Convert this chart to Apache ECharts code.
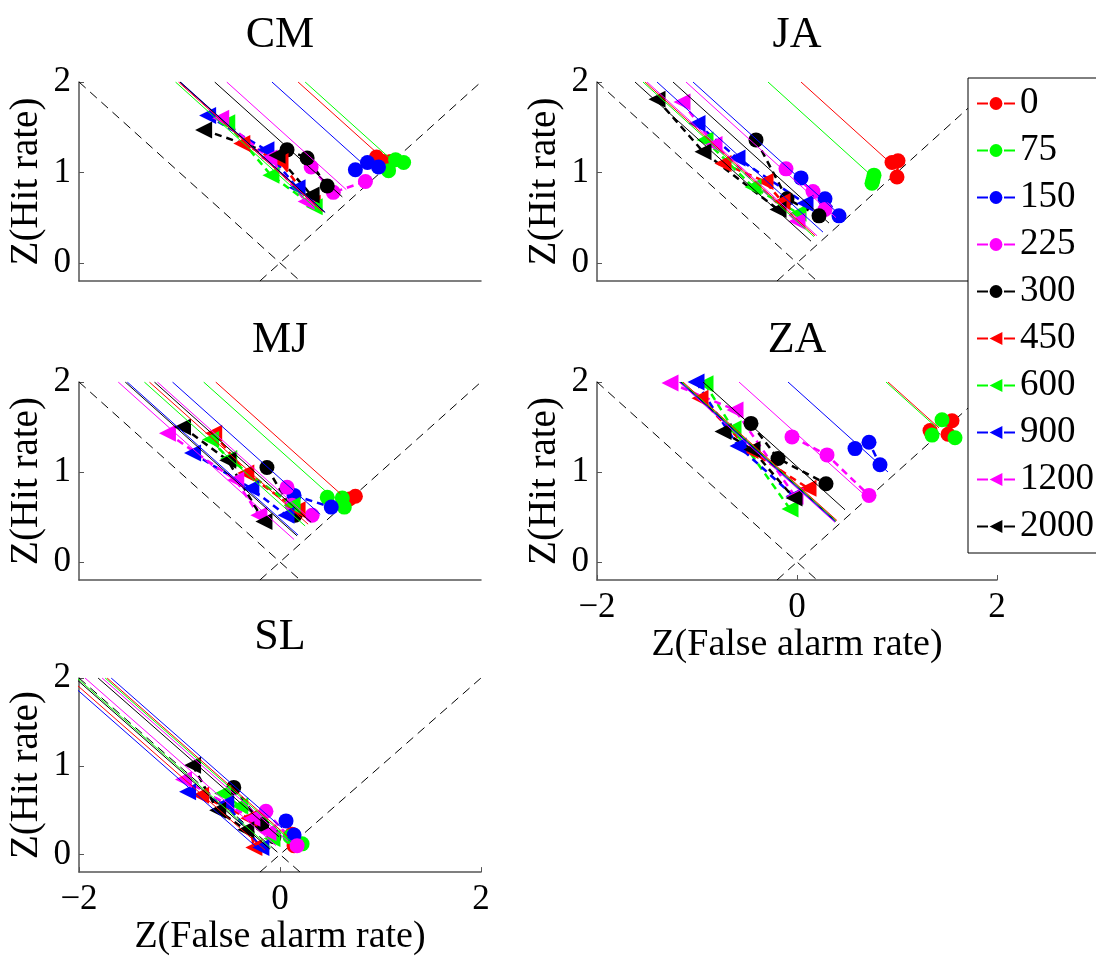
<!DOCTYPE html>
<html><head><meta charset="utf-8">
<script src="https://cdn.jsdelivr.net/npm/echarts@6/dist/echarts.min.js"></script>
<style>html,body{margin:0;padding:0;background:#fff}#chart{width:1096px;height:957px}</style>
</head><body><div id="chart"></div>
<script>
// ---------- DATA ----------
const conditions = ['0','75','150','225','300','450','600','900','1200','2000'];
const condColors = ['#ff0000','#00ff00','#0000ff','#ff00ff','#000000','#ff0000','#00ff00','#0000ff','#ff00ff','#000000'];
const condSymbols = ['circle','circle','circle','circle','circle','triangle','triangle','triangle','triangle','triangle'];
const panelNames = ['CM','JA','MJ','ZA','SL'];
const yTickValues = [0,1,2];
const xTickValues = [-2,0,2];
const chanceDown = [[-2,2],[0.2,-0.2]];
const chanceUp = [[-0.2,-0.2],[2,2]];

// points per condition (index follows conditions)
const cmPoints = [
  [[0.96,1.17],[1.03,1.12],[1.10,1.12]],
  [[1.08,1.02],[1.15,1.14],[1.23,1.11]],
  [[0.75,1.03],[0.87,1.11],[0.98,1.06]],
  [[0.31,1.06],[0.53,0.78],[0.85,0.90]],
  [[0.07,1.25],[0.27,1.16],[0.47,0.85]],
  [[-0.38,1.32],[0.0,1.12],[0.32,0.66]],
  [[-0.53,1.55],[-0.09,0.97],[0.34,0.62]],
  [[-0.72,1.63],[-0.14,1.25],[0.17,0.83]],
  [[-0.59,1.60],[-0.11,1.16],[0.26,0.68]],
  [[-0.76,1.47],[-0.03,1.19],[0.31,0.75]]
];
const jaPoints = [
  [[0.95,1.11],[1.01,1.13],[1.00,0.95]],
  [[0.77,0.97],[0.76,0.92],[0.75,0.88]],
  [[0.04,0.94],[0.28,0.71],[0.42,0.52]],
  [[-0.11,1.04],[0.16,0.79],[0.28,0.59]],
  [[-0.41,1.36],[-0.10,0.71],[0.22,0.52]],
  [[-0.74,1.10],[-0.32,0.90],[-0.15,0.68]],
  [[-0.92,1.36],[-0.44,0.84],[0.01,0.55]],
  [[-1.00,1.54],[-0.60,1.16],[0.08,0.66]],
  [[-1.15,1.78],[-0.83,1.31],[0.0,0.46]],
  [[-1.40,1.81],[-0.94,1.23],[-0.19,0.59]]
];
const mjPoints = [
  [[0.64,0.67],[0.69,0.70],[0.75,0.73]],
  [[0.47,0.72],[0.62,0.71],[0.64,0.61]],
  [[0.14,0.74],[0.51,0.61]],
  [[0.07,0.83],[0.12,0.63],[0.32,0.52]],
  [[-0.13,1.05],[0.15,0.52]],
  [[-0.66,1.43],[-0.34,0.99],[0.17,0.58]],
  [[-0.69,1.36],[-0.51,1.15],[0.12,0.63]],
  [[-0.87,1.21],[-0.29,0.82],[0.06,0.52]],
  [[-1.12,1.43],[-0.44,0.91],[-0.21,0.52]],
  [[-0.97,1.50],[-0.52,1.13],[-0.16,0.45]]
];
const zaPoints = [
  [[1.33,1.46],[1.55,1.57],[1.51,1.42]],
  [[1.35,1.41],[1.45,1.58],[1.58,1.38]],
  [[0.58,1.26],[0.72,1.33],[0.83,1.08]],
  [[-0.05,1.39],[0.30,1.19],[0.72,0.74]],
  [[-0.46,1.54],[-0.19,1.15],[0.29,0.87]],
  [[-0.97,1.82],[-0.47,1.24],[0.11,0.82]],
  [[-0.92,1.98],[-0.64,1.48],[-0.07,0.59]],
  [[-1.01,2.0],[-0.59,1.29],[-0.03,0.73]],
  [[-1.27,1.99],[-0.62,1.69],[-0.02,0.73]],
  [[-0.74,1.45],[-0.45,1.25],[-0.03,0.71]]
];
const slPoints = [
  [[0.12,0.23],[0.14,0.10]],
  [[0.10,0.20],[0.22,0.12]],
  [[0.06,0.38],[0.14,0.22]],
  [[-0.14,0.49],[0.17,0.10]],
  [[-0.46,0.76],[-0.18,0.34],[-0.06,0.20]],
  [[-0.79,0.67],[-0.31,0.41],[-0.26,0.08]],
  [[-0.57,0.69],[-0.40,0.55],[-0.08,0.18]],
  [[-0.92,0.71],[-0.54,0.58],[-0.19,0.08]],
  [[-0.96,0.85],[-0.28,0.41],[-0.12,0.25]],
  [[-0.87,1.01],[-0.62,0.50],[-0.34,0.28]]
];

// solid slope -1 lines: [condition index, x at y=2, y at lower end]
const cmLines = [[5,-1.01,0.57],[6,-1.04,0.58],[7,-0.99,0.56],[8,-1.0,0.57],[9,-0.995,0.56],
  [4,-0.65,0.73],[3,-0.53,0.81],[2,-0.08,1.12],[0,0.18,1.20],[1,0.25,1.16]];
const jaLines = [[9,-1.62,0.24],[6,-1.54,0.29],[5,-1.52,0.30],[8,-1.50,0.30],[7,-1.40,0.34],
  [4,-1.24,0.44],[3,-1.11,0.50],[2,-1.04,0.53],[1,-0.29,0.96],[0,0.04,1.14]];
const mjLines = [[8,-1.61,0.25],[9,-1.54,0.29],[7,-1.52,0.30],[6,-1.35,0.40],[5,-1.30,0.42],
  [4,-1.25,0.44],[3,-1.22,0.45],[2,-1.07,0.53],[1,-0.76,0.74],[0,-0.64,0.76]];
const zaLines = [[8,-1.18,0.44],[9,-1.16,0.45],[6,-1.15,0.46],[5,-1.14,0.46],[7,-1.17,0.45],
  [4,-0.94,0.58],[3,-0.58,0.76],[2,-0.09,1.0],[1,0.89,1.50],[0,0.91,1.49]];
const slLines = [[7,-2.15,0.05],[5,-2.10,0.05],[9,-2.04,0.06],[6,-2.02,0.07],[8,-1.94,0.10],
  [4,-1.81,0.20],[3,-1.77,0.15],[1,-1.74,0.15],[0,-1.72,0.20],[2,-1.68,0.30]];

// ---------- LAYOUT ----------
const FONT = 'Liberation Serif';
const panels = [
  {name:'CM', points:cmPoints, lines:cmLines, grid:{left:79, top:82, width:402, height:199}, xlab:false, title:[280,35]},
  {name:'JA', points:jaPoints, lines:jaLines, grid:{left:597, top:82, width:400, height:199}, xlab:false, title:[797,35]},
  {name:'MJ', points:mjPoints, lines:mjLines, grid:{left:79, top:382, width:402, height:198}, xlab:false, title:[280,340]},
  {name:'ZA', points:zaPoints, lines:zaLines, grid:{left:597, top:382, width:400, height:198}, xlab:true, title:[797,340]},
  {name:'SL', points:slPoints, lines:slLines, grid:{left:79, top:678, width:402, height:201}, xlab:true, title:[280,637]}
];

const grids = [], xAxes = [], yAxes = [], series = [], graphics = [];
const axisColor = '#555';
panels.forEach((p, i) => {
  grids.push(Object.assign({containLabel:false}, p.grid));
  xAxes.push({
    gridIndex:i, type:'value', min:-2, max:2,
    axisLine:{show:true, onZero:false, lineStyle:{color:axisColor, width:1.5}},
    axisTick:{show:p.xlab, inside:true, length:5, customValues:xTickValues, lineStyle:{color:axisColor}},
    axisLabel:{show:p.xlab, customValues:xTickValues, margin:10, color:'#000', fontFamily:FONT, fontSize:35,
      formatter:v => v < 0 ? '\u2212' + Math.abs(v) : String(v)},
    splitLine:{show:false},
    name: p.xlab ? 'Z(False alarm rate)' : '', nameLocation:'middle', nameGap:44,
    nameTextStyle:{color:'#000', fontFamily:FONT, fontSize:38}
  });
  yAxes.push({
    gridIndex:i, type:'value', min:-0.2, max:2,
    axisLine:{show:true, onZero:false, lineStyle:{color:axisColor, width:1.5}},
    axisTick:{show:true, inside:true, length:5, customValues:yTickValues, lineStyle:{color:axisColor}},
    axisLabel:{customValues:yTickValues, margin:8, color:'#000', fontFamily:FONT, fontSize:35},
    splitLine:{show:false},
    name:'Z(Hit rate)', nameLocation:'middle', nameGap:33,
    nameTextStyle:{color:'#000', fontFamily:FONT, fontSize:39}
  });
  [chanceDown, chanceUp].forEach(d => series.push({
    type:'line', xAxisIndex:i, yAxisIndex:i, data:d, symbol:'none', silent:true,
    lineStyle:{color:'#000', width:1, type:[9,6]}, animation:false, z:1
  }));
  p.points.forEach((pts, c) => series.push({
    type:'line', name:conditions[c], xAxisIndex:i, yAxisIndex:i, data:pts,
    symbol:condSymbols[c], symbolSize: c < 5 ? 15 : 17, symbolRotate: c < 5 ? 0 : 90,
    showAllSymbol:true, clip:false,
    lineStyle:{color:condColors[c], width:2.5, type:[7,5]},
    itemStyle:{color:condColors[c]}, animation:false, z:2
  }));
  p.lines.forEach(([c, xTop, yEnd]) => series.push({
    type:'line', name:'fit-' + conditions[c], xAxisIndex:i, yAxisIndex:i,
    data:[[xTop, 2], [xTop + (2 - yEnd), yEnd]], symbol:'none', clip:true, silent:true,
    lineStyle:{color:condColors[c], width:1}, animation:false, z:3
  }));
  graphics.push({type:'text', x:p.title[0], y:p.title[1],
    style:{text:p.name, fontSize:44, fontFamily:FONT, fill:'#000', align:'center', verticalAlign:'middle'}});
});

const chart = echarts.init(document.getElementById('chart'), null, {renderer:'canvas'});
chart.setOption({
  backgroundColor:'#fff',
  animation:false,
  grid:grids, xAxis:xAxes, yAxis:yAxes, series:series, graphic:graphics,
  legend:{
    data:conditions, orient:'vertical', left:968, top:78, z:10,
    backgroundColor:'#fff', borderColor:'#000', borderWidth:1,
    padding:[7,12,8,8], itemGap:10, itemWidth:38, itemHeight:16,
    lineStyle:{type:[11,16]},
    textStyle:{color:'#000', fontFamily:FONT, fontSize:37}
  }
});
</script></body></html>
